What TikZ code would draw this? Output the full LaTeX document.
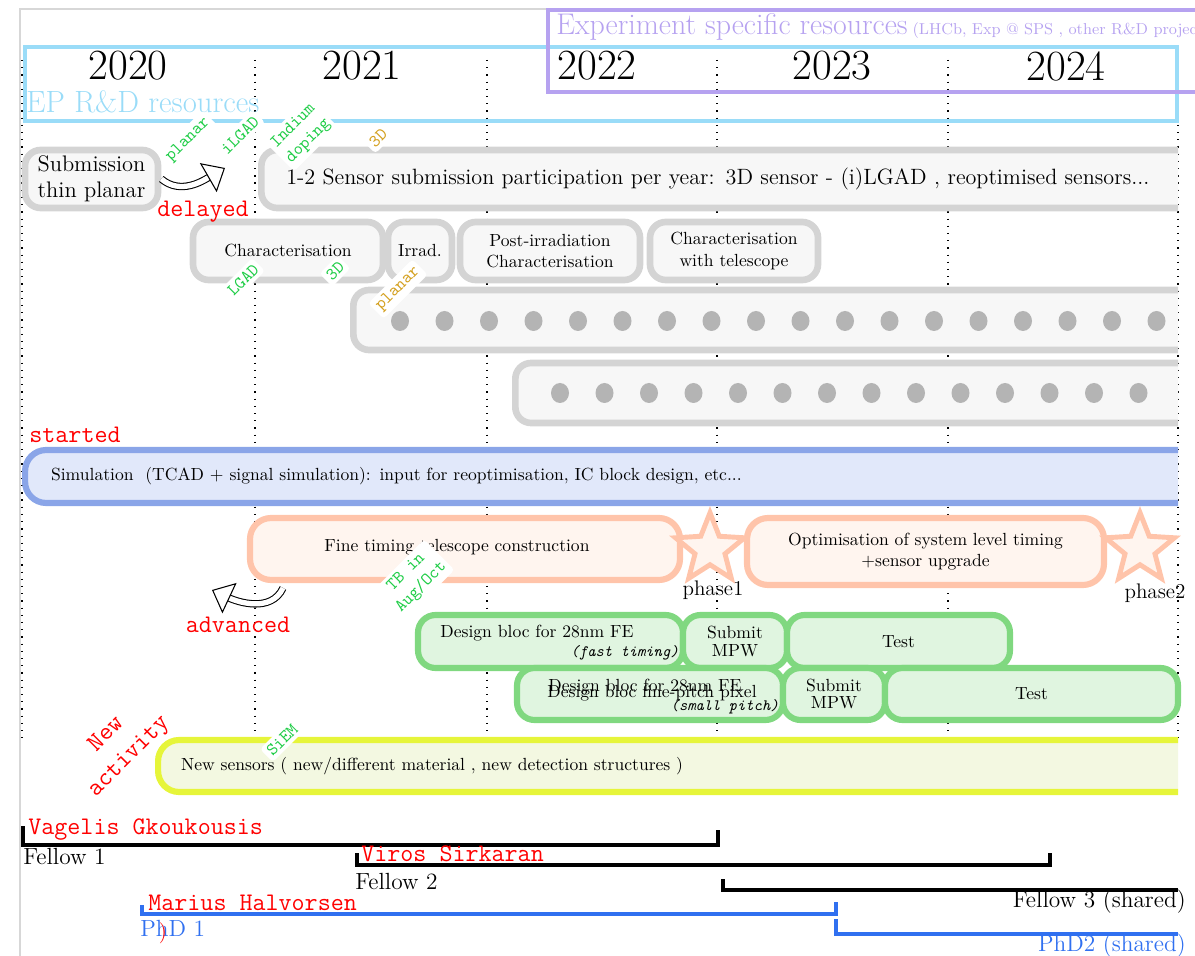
\documentclass[tikz,border=0pt]{standalone}
\usetikzlibrary{shapes.geometric,arrows.meta}

\definecolor{epblue}{RGB}{154,220,248}
\definecolor{expurple}{RGB}{182,162,240}
\definecolor{boxgrey}{RGB}{212,212,212}
\definecolor{boxfill}{RGB}{247,247,247}
\definecolor{dotgrey}{RGB}{180,180,180}
\definecolor{simblue}{RGB}{138,165,232}
\definecolor{simfill}{RGB}{225,232,250}
\definecolor{salmon}{RGB}{255,196,170}
\definecolor{salmonfill}{RGB}{255,245,239}
\definecolor{fegreen}{RGB}{128,216,128}
\definecolor{fefill}{RGB}{224,245,224}
\definecolor{newyellow}{RGB}{230,245,58}
\definecolor{newfill}{RGB}{243,248,225}
\definecolor{taggreen}{RGB}{30,205,70}
\definecolor{tagorange}{RGB}{212,160,30}
\definecolor{phdblue}{RGB}{48,112,240}
\definecolor{framegrey}{RGB}{215,215,215}

\tikzset{
  yeargrid/.style={line width=0.7pt, dash pattern=on 0.7pt off 3.4pt},
  yearlabel/.style={font=\fontsize{24.5}{26}\selectfont},
  greybox/.style={draw=boxgrey, fill=boxfill, line width=3.8pt, rounded corners=9pt, inner sep=0pt, align=center},
  simbox/.style={draw=simblue, fill=simfill, line width=3.5pt, rounded corners=12pt, inner sep=0pt, align=left},
  timebox/.style={draw=salmon, fill=salmonfill, line width=3.5pt, rounded corners=12pt, inner sep=0pt, align=center},
  febox/.style={draw=fegreen, fill=fefill, line width=3.5pt, rounded corners=10pt, inner sep=0pt, align=center},
  newbox/.style={draw=newyellow, fill=newfill, line width=3.5pt, rounded corners=12pt, inner sep=0pt, align=left},
  phasestar/.style={star, star points=5, star point ratio=2.3, minimum size=1.45cm, draw=salmon, fill=salmonfill, line width=2.8pt, inner sep=0pt},
  sensortag/.style={font=\ttfamily, fill=white, rotate=45, inner sep=2pt, align=center, rounded corners=2pt},
  redtag/.style={font=\ttfamily\Large, text=red},
  hollowarrow/.style={double=white, double distance=3pt, line width=0.6pt, -{Triangle[length=11pt,width=19pt,fill=white,line width=0.6pt]}},
  staff/.style={line width=2.2pt},
}

\begin{document}
\begin{tikzpicture}[x=1cm,y=1cm]
\useasboundingbox (0,0) rectangle (23.9,-19.12);

% page edge
\draw[framegrey, line width=0.8pt] (0.4,-19.2) -- (0.4,-0.18) -- (24,-0.18);

% year grid
\foreach \gx in {0.44,5.10,9.74,14.34,18.96,23.56}
  \draw[yeargrid] (\gx,-1.2) -- (\gx,-14.8);
\foreach \yr/\yx in {2020/2.56,2021/7.24,2022/11.94,2023/16.64,2024/21.32}
  \node[yearlabel] (y\yr) at (\yx,-1.32) {\yr};

% resources
\draw[epblue, line width=2.3pt] (0.5,-0.94) rectangle (23.54,-2.42);
\node[anchor=west, text=epblue, font=\fontsize{17.5}{19}\selectfont, inner sep=0pt] (epres) at (0.52,-2.04) {EP R\&D resources};
\draw[expurple, line width=2.3pt] (10.96,-0.2) rectangle (24.4,-1.84);
\node[anchor=west, text=expurple, inner sep=0pt] (expres) at (11.12,-0.54)
  {\fontsize{17}{19}\selectfont Experiment specific resources\,{\small (LHCb, Exp @ SPS , other R\&D projects)}};

% sensors
\node[greybox, minimum width=2.66cm, minimum height=1.16cm, font=\fontsize{12.8}{15}\selectfont] (thin) at (1.83,-3.58) {Submission\\thin planar};
\begin{scope}
\clip (0,0) rectangle (23.56,-19.12);
\node[greybox, anchor=west, minimum width=20cm, minimum height=1.16cm, text width=19cm, align=left, font=\fontsize{12.6}{15}\selectfont] (subm) at (5.16,-3.58)
  {1-2 Sensor submission participation per year: 3D sensor - (i)LGAD , reoptimised sensors...};
\node[greybox, anchor=west, minimum width=18cm, minimum height=1.2cm] (row1) at (7.0,-6.4) {};
\node[greybox, anchor=west, minimum width=15cm, minimum height=1.2cm] (row2) at (10.24,-7.86) {};
\node[simbox, anchor=west, minimum width=25.04cm, minimum height=1.06cm, text width=24cm] (sim) at (0.44,-9.53)
  {Simulation\ \ (TCAD + signal simulation): input for reoptimisation, IC block design, etc...};
\node[newbox, anchor=west, minimum width=22.92cm, minimum height=1.04cm, text width=22cm] (newsens) at (3.1,-15.32)
  {New sensors ( new/different material , new detection structures )};
\end{scope}
\foreach \i in {0,...,17}
  \fill[dotgrey] (8.0+0.89*\i,-6.42) ellipse (0.18 and 0.2);
\foreach \i in {0,...,13}
  \fill[dotgrey] (11.2+0.89*\i,-7.86) ellipse (0.18 and 0.2);

\node[greybox, minimum width=3.8cm, minimum height=1.16cm] (char) at (5.76,-5.02) {Characterisation};
\node[greybox, minimum width=1.28cm, minimum height=1.16cm] (irrad) at (8.40,-5.02) {Irrad.};
\node[greybox, minimum width=3.6cm, minimum height=1.16cm] (postirr) at (11.0,-5.02) {Post-irradiation\\Characterisation};
\node[greybox, minimum width=3.36cm, minimum height=1.16cm] (chartel) at (14.68,-5.02) {Characterisation\\with telescope};

% timing
\node[timebox, minimum width=8.6cm, minimum height=1.24cm] (fine) at (9.30,-10.98) {};
\node (finetxt) at (9.14,-10.94) {Fine timing telescope construction};
\node[timebox, minimum width=7.14cm, minimum height=1.34cm] (optim) at (18.51,-11.03) {Optimisation of system level timing\\+sensor upgrade};
\node[phasestar] (star1) at (14.2,-10.98) {};
\node[phasestar] (star2) at (22.8,-10.98) {};
\node[font=\large] (ph1) at (14.26,-11.8) {phase1};
\node[font=\large] (ph2) at (23.1,-11.86) {phase2};

% front-end
\node[febox, minimum width=5.3cm, minimum height=1.06cm] (des1) at (11.01,-12.83) {};
\node (des1txt) at (10.74,-12.66) {Design bloc for 28nm FE};
\node[anchor=east, font=\small\ttfamily\itshape, inner sep=0pt] (des1sub) at (13.58,-13.06) {(fast timing)};
\node[febox, minimum width=2.08cm, minimum height=1.06cm] (sub1) at (14.70,-12.83) {Submit\\[-2pt]MPW};
\node[febox, minimum width=4.46cm, minimum height=1.06cm] (test1) at (17.97,-12.83) {Test};
\node[febox, minimum width=5.32cm, minimum height=1.04cm] (des2) at (13.0,-13.88) {};
\node (des2a) at (12.9,-13.74) {Design bloc for 28nm FE};
\node (des2b) at (13.04,-13.86) {Design bloc fine-pitch pixel};
\node[anchor=east, font=\small\ttfamily\itshape, inner sep=0pt] (des2sub) at (15.58,-14.14) {(small pitch)};
\node[febox, minimum width=2.04cm, minimum height=1.04cm] (sub2) at (16.68,-13.88) {Submit\\[-2pt]MPW};
\node[febox, minimum width=5.86cm, minimum height=1.04cm] (test2) at (20.63,-13.88) {Test};

% tags
\node[sensortag, text=taggreen] (tplanar) at (3.76,-2.8) {planar};
\node[sensortag, text=taggreen] (tilgad) at (4.8,-2.7) {iLGAD};
\node[sensortag, text=taggreen] (tindium) at (6.02,-2.68) {Indium\\doping};
\node[sensortag, text=tagorange] (t3d) at (7.56,-2.76) {3D};
\node[sensortag, text=taggreen] (tlgad) at (4.86,-5.6) {LGAD};
\node[sensortag, text=taggreen] (t3dch) at (6.7,-5.42) {3D};
\node[sensortag, text=tagorange] (tplirr) at (7.96,-5.78) {planar};
\node[sensortag, text=taggreen] (ttb) at (8.28,-11.6) {TB in\\Aug/Oct};
\node[sensortag, text=taggreen] (tsiem) at (5.64,-14.8) {SiEM};

% status
\node[redtag] (delayed) at (4.06,-4.24) {delayed};
\node[redtag] (started) at (1.5,-8.7) {started};
\node[redtag] (advanced) at (4.76,-12.5) {advanced};
\node[redtag, rotate=45, align=center] (newact) at (2.36,-14.92) {New\\activity};
\coordinate (dlyend) at (4.5,-3.36);
\draw[hollowarrow] (thin.east) to[out=-40, in=210] (dlyend);
\coordinate (advstart) at (5.66,-11.76);
\coordinate (advend) at (4.24,-11.8);
\draw[hollowarrow] (advstart) to[out=245, in=-25] (advend);

% people
\draw[staff] (0.46,-16.52) |- (14.36,-16.9) -- (14.36,-16.6);
\draw[staff] (7.14,-17.06) |- (21.0,-17.3) -- (21.0,-17.06);
\draw[staff] (14.46,-17.58) |- (23.56,-17.8);
\draw[staff, phdblue] (2.84,-18.1) |- (16.72,-18.28) -- (16.72,-18.04);
\draw[staff, phdblue] (16.72,-18.38) |- (23.56,-18.68);
\node[redtag, anchor=west, inner sep=0pt] (vagelis) at (0.56,-16.6) {Vagelis Gkoukousis};
\node[anchor=west, font=\fontsize{13.3}{15}\selectfont, inner sep=0pt] (fel1) at (0.46,-17.14) {Fellow 1};
\node[redtag, anchor=west, inner sep=0pt] (viros) at (7.22,-17.08) {Viros Sirkaran};
\node[anchor=west, font=\fontsize{13.3}{15}\selectfont, inner sep=0pt] (fel2) at (7.1,-17.64) {Fellow 2};
\node[anchor=east, font=\fontsize{13.3}{15}\selectfont, inner sep=0pt] (fel3) at (23.72,-18.04) {Fellow 3 (shared)};
\node[redtag, anchor=west, inner sep=0pt] (marius) at (2.96,-18.06) {Marius Halvorsen};
\node[anchor=west, font=\fontsize{13.3}{15}\selectfont, text=phdblue, inner sep=0pt] (phd1) at (2.8,-18.56) {PhD 1};
\node[text=red, font=\large, inner sep=0pt] (paren) at (3.26,-18.66) {)};
\node[anchor=east, font=\fontsize{13.3}{15}\selectfont, text=phdblue, inner sep=0pt] (phd2) at (23.72,-18.92) {PhD2 (shared)};
\end{tikzpicture}
\end{document}
